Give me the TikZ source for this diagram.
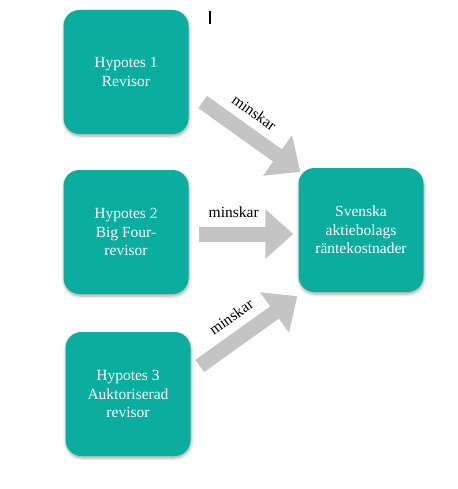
\documentclass[tikz,border=0pt]{standalone}
\usepackage{fontspec}
\setmainfont{Liberation Serif}
\usetikzlibrary{arrows.meta,calc,shadows.blur}
\definecolor{boxteal}{HTML}{0BAD9F}
\definecolor{arrowgray}{HTML}{C4C4C4}
\tikzset{
  hypbox/.style={
    rounded corners=16pt, fill=boxteal, draw=none, text=white,
    align=center, minimum width=125pt, minimum height=124pt,
    font=\fontsize{15.5}{18.5}\selectfont,
    blur shadow={shadow xshift=0.5pt, shadow yshift=-2pt,
      shadow blur radius=3pt, shadow opacity=35}
  },
  bigarrow/.style={-{Triangle[length=28pt,width=48pt]}, line width=15pt, draw=arrowgray},
  arrowtag/.style={font=\fontsize{15.5}{18}\selectfont, text=black,
    inner sep=0.5pt, sloped, above=8pt}
}

\begin{document}
\begin{tikzpicture}[x=1pt,y=-1pt]
  \useasboundingbox (0,0) rectangle (457,489);

  % hypotheses
  \node[hypbox] (hyp1) at (126,72)  {Hypotes 1\\Revisor};
  \node[hypbox] (hyp2) at (126,232) {Hypotes 2\\Big Four-\\revisor};
  \node[hypbox] (hyp3) at (128,394) {Hypotes 3\\Auktoriserad\\revisor};

  % outcome
  \node[hypbox] (cost) at (361,230) {Svenska\\aktiebolags\\räntekostnader};

  % arrow ends
  \coordinate (a1s) at ($(hyp1.east)+(14,30)$);
  \coordinate (a1e) at ($(cost.north west)+(2,4)$);
  \coordinate (a2s) at ($(hyp2.east)+(10,2)$);
  \coordinate (a2e) at ($(cost.west)+(-5,4)$);
  \coordinate (a3s) at ($(hyp3.east)+(9,-28)$);
  \coordinate (a3e) at ($(cost.south west)+(-1,4)$);

  % edges
  \draw[bigarrow] (a1s) -- (a1e) node[arrowtag, pos=0.40] {minskar};
  \draw[bigarrow] (a2s) -- (a2e) node[arrowtag, pos=0.37] {minskar};
  \draw[bigarrow] (a3s) -- (a3e) node[arrowtag, pos=0.45] {minskar};

  % stray cursor mark
  \draw[line width=1.2pt] (210,11) -- (210,24);
\end{tikzpicture}
\end{document}
